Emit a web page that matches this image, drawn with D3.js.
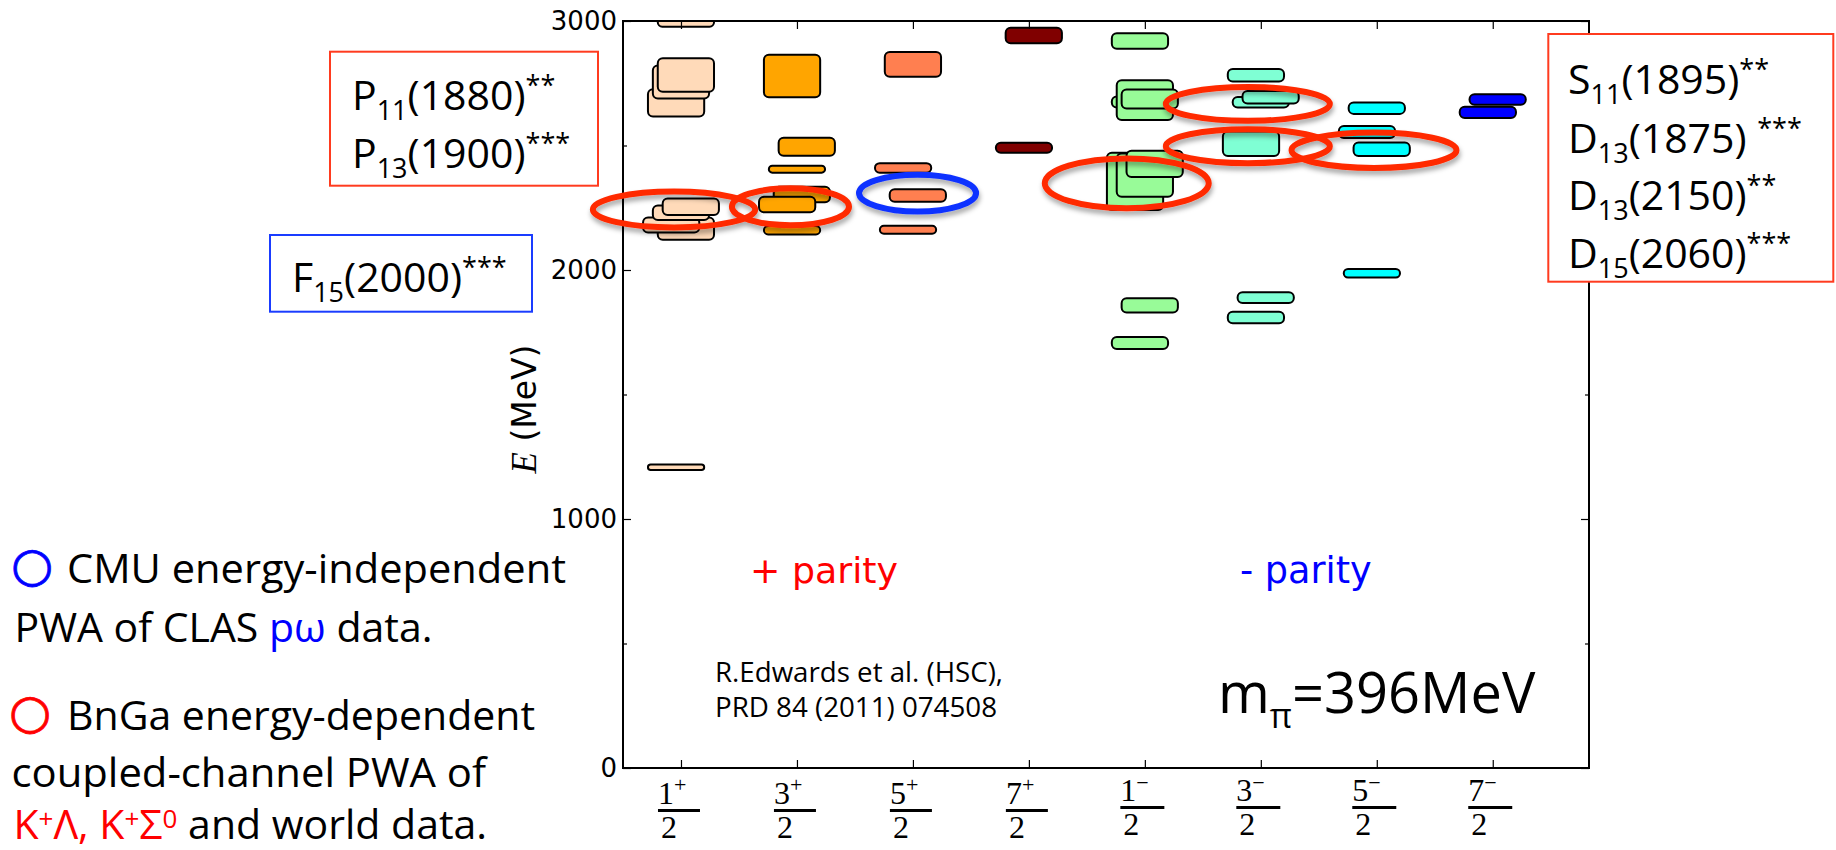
<!DOCTYPE html>
<html><head><meta charset="utf-8">
<script src="https://cdn.jsdelivr.net/npm/d3@7"></script>
<style>body{margin:0;background:#fff;} svg{display:block;}</style>
</head><body>
<svg id="chart" width="1836" height="850"></svg>
<script>
// ---------------- data ----------------
const categories = ["1/2+","3/2+","5/2+","7/2+","1/2-","3/2-","5/2-","7/2-"];
const tickNumerators = ["1","3","5","7","1","3","5","7"];
const tickParities = ["+","+","+","+","\u2212","\u2212","\u2212","\u2212"];
const tickDenominators = ["2","2","2","2","2","2","2","2"];
const yMajorTicks = [0,1000,2000,3000];
const yMinorTicks = [500,1500,2500];
const boxColors = ["#FFDAB9","#FFA500","#FF7F50","#800000","#98FB98","#7FFFD4","#00FFFF","#0000FF"];
// levels: [energy (MeV), half-height (MeV), overlap shift index], in drawing order
const levels1p = [[2995,18,1],[2671,55,-1],[2755,66,0],[2783,67,1],[2166,45,1],[2181,30,-2],[2230,29,0],[2254,33,2],[1208,11,-1]];
const levels3p = [[2779,85,-1],[2495,36,2],[2405,14,0],[2303,31,1],[2263,31,-2],[2160,17,-1]];
const levels5p = [[2826,50,0],[2410,19,-2],[2299,25,1],[2162,16,-1]];
const levels7p = [[2942,31,1],[2491,20,-1]];
const levels1m = [[2920,31,-1],[2675,22,-1],[2682,80,0],[2687,38,1],[2356,115,-2],[2381,87,0],[2426,53,2],[1858,29,1],[1707,24,-1]];
const levels3m = [[2782,25,-1],[2674,21,0],[2694,25,2],[2507,49,-2],[1889,22,1],[1809,23,-1]];
const levels5m = [[2650,23,0],[2554,24,-2],[2485,27,1],[1987,17,-1]];
const levels7m = [[2685,21,1],[2633,23,-1]];
// highlighted states: [x (category units), E (MeV), half-width (units), half-height (MeV), analysis]
const highlights = [[0.94,2243,0.70,72,"BnGa"],[1.944,2254,0.505,74,"BnGa"],[3.04,2309,0.505,74,"CMU"],
  [4.844,2348,0.707,100,"BnGa"],[5.888,2667,0.707,68,"BnGa"],[5.888,2497,0.707,68,"BnGa"],[6.976,2481,0.711,71,"BnGa"]];
const leftBoxLines = [["P","11","(1880)","**"],["P","13","(1900)","***"]];
const blueBoxLines = [["F","15","(2000)","***"]];
const rightBoxLines = [["S","11","(1895)","**"],["D","13","(1875) ","***"],["D","13","(2150)","**"],["D","15","(2060)","***"]];

// ---------------- chart ----------------
const W=1836, H=850;
const svg = d3.select("#chart");
svg.append("rect").attr("width",W).attr("height",H).attr("fill","#fff");
const L=623, R=1589, T=21, B=768;
const x = d3.scaleLinear().domain([0.5,8.83]).range([L,R]);
const y = d3.scaleLinear().domain([0,3000]).range([B,T]);
const shiftStep = 0.0423, boxW = 0.485;

const defs = svg.append("defs");
defs.append("clipPath").attr("id","plotClip").append("rect").attr("x",L).attr("y",T).attr("width",R-L).attr("height",B-T);
const flt = defs.append("filter").attr("id","shadow").attr("x","-20%").attr("y","-50%").attr("width","140%").attr("height","200%");
flt.append("feDropShadow").attr("dx",1).attr("dy",4).attr("stdDeviation",2.5).attr("flood-color","#000").attr("flood-opacity",0.35);

// boxes
const plot = svg.append("g").attr("clip-path","url(#plotClip)");
const allLevels = [levels1p,levels3p,levels5p,levels7p,levels1m,levels3m,levels5m,levels7m];
allLevels.forEach((lv,i)=>{
  plot.selectAll(null).data(lv).enter().append("rect")
    .attr("x", d=>x(i+1 + d[2]*shiftStep - boxW/2))
    .attr("width", x(boxW)-x(0))
    .attr("y", d=>y(d[0]+d[1]))
    .attr("height", d=>y(d[0]-d[1])-y(d[0]+d[1]))
    .attr("rx", d=>Math.min(5,(y(d[0]-d[1])-y(d[0]+d[1]))/2))
    .attr("fill", boxColors[i]).attr("stroke","#000").attr("stroke-width",2);
});

// axes
function styleAxis(g){ g.select(".domain").remove(); g.selectAll(".tick line").attr("stroke","#000").attr("stroke-width",1.2);
  g.selectAll("text").attr("font-family","DejaVu Sans").attr("font-size",26).attr("fill","#000"); }
svg.append("g").attr("transform",`translate(${L},0)`).call(d3.axisLeft(y).tickValues(yMajorTicks).tickSize(-8).tickPadding(6).tickFormat(d3.format("d"))).call(styleAxis);
svg.append("g").attr("transform",`translate(${L},0)`).call(d3.axisLeft(y).tickValues(yMinorTicks).tickSize(-4).tickFormat("")).call(styleAxis);
svg.append("g").attr("transform",`translate(${R},0)`).call(d3.axisRight(y).tickValues(yMajorTicks).tickSize(-8).tickFormat("")).call(styleAxis);
svg.append("g").attr("transform",`translate(${R},0)`).call(d3.axisRight(y).tickValues(yMinorTicks).tickSize(-4).tickFormat("")).call(styleAxis);
const xt = d3.range(1,categories.length+1);
svg.append("g").attr("transform",`translate(0,${B})`).call(d3.axisBottom(x).tickValues(xt).tickSize(-8).tickFormat("")).call(styleAxis);
svg.append("g").attr("transform",`translate(0,${T})`).call(d3.axisTop(x).tickValues(xt).tickSize(-8).tickFormat("")).call(styleAxis);
svg.append("rect").attr("x",L).attr("y",T).attr("width",R-L).attr("height",B-T).attr("fill","none").attr("stroke","#000").attr("stroke-width",2);

// fraction tick labels
categories.forEach((c,i)=>{
  const minus = tickParities[i] === "\u2212";
  const off = minus ? -3 : 0;
  const bw = minus ? 44 : 42;
  const bl = x(i+1) - (minus ? 24.5 : 23);
  const num = svg.append("text").attr("x",bl).attr("y",804+off).attr("font-family","Liberation Serif").attr("font-size",32).attr("fill","#000");
  num.append("tspan").text(tickNumerators[i]);
  num.append("tspan").attr("dy",minus?-11:-12).attr("font-size",22).text(tickParities[i]);
  svg.append("rect").attr("x",bl).attr("y",809+off).attr("width",bw).attr("height",3).attr("fill","#000");
  svg.append("text").attr("x",bl+3).attr("y",837.5+off).attr("font-family","Liberation Serif").attr("font-size",32).attr("fill","#000").text(tickDenominators[i]);
});

// y label
const yl = svg.append("text").attr("transform","translate(536,409) rotate(-90)").attr("text-anchor","middle").attr("fill","#000");
yl.append("tspan").attr("font-family","Liberation Serif").attr("font-style","italic").attr("font-size",35).text("E");
yl.append("tspan").attr("font-family","DejaVu Sans").attr("font-size",33).text(" (MeV)");

// highlight ellipses
const ell = svg.append("g").attr("filter","url(#shadow)");
ell.selectAll("ellipse").data(highlights).enter().append("ellipse")
  .attr("cx", d=>x(d[0])).attr("cy", d=>y(d[1]))
  .attr("rx", d=>x(d[0]+d[2])-x(d[0])).attr("ry", d=>y(d[1]-d[3])-y(d[1]))
  .attr("fill","none").attr("stroke", d=>d[4]==="CMU" ? "#1030ff" : "#ff2a00").attr("stroke-width",6);

// parity labels
svg.append("text").attr("x",750).attr("y",582.7).attr("font-family","DejaVu Sans").attr("font-size",36.3).attr("fill","#ff0000").text("+ parity");
svg.append("text").attr("x",1240).attr("y",582.7).attr("font-family","DejaVu Sans").attr("font-size",36.6).attr("fill","#0000ff").text("- parity");

// reference text
const SL = "Open Sans";
svg.append("text").attr("x",715).attr("y",681.7).attr("font-family",SL).attr("font-size",28).attr("textLength",288).attr("lengthAdjust","spacingAndGlyphs").text("R.Edwards et al. (HSC),");
svg.append("text").attr("x",715).attr("y",717.3).attr("font-family",SL).attr("font-size",28).attr("textLength",282).attr("lengthAdjust","spacingAndGlyphs").text("PRD 84 (2011) 074508");
const mpi = svg.append("text").attr("x",1218).attr("y",713.3).attr("font-family",SL).attr("font-size",56).attr("fill","#000");
mpi.append("tspan").text("m");
mpi.append("tspan").attr("dy",15).attr("font-size",34).text("\u03c0");
mpi.append("tspan").attr("dy",-15).text("=396MeV");

// state boxes
function stateLines(lines, x0, baselines){
  lines.forEach((ln,k)=>{
    const t = svg.append("text").attr("x",x0).attr("y",baselines[k]).attr("font-family",SL).attr("font-size",41).attr("fill","#000");
    t.append("tspan").text(ln[0]);
    t.append("tspan").attr("dy",10).attr("font-size",27).text(ln[1]);
    t.append("tspan").attr("dy",-10).text(ln[2]);
    t.append("tspan").attr("dy",-15).attr("font-size",27).text(ln[3]);
  });
}
svg.append("rect").attr("x",330).attr("y",51.7).attr("width",268).attr("height",134).attr("fill","#fff").attr("stroke","#ff3b1f").attr("stroke-width",2);
stateLines(leftBoxLines, 352, [110,168.3]);
svg.append("rect").attr("x",270).attr("y",235).attr("width",262).attr("height",76.7).attr("fill","#fff").attr("stroke","#1a3cff").attr("stroke-width",2);
stateLines(blueBoxLines, 292, [291.7]);
svg.append("rect").attr("x",1548.3).attr("y",34).attr("width",285).attr("height",247.7).attr("fill","#fff").attr("stroke","#ff3b1f").attr("stroke-width",2);
stateLines(rightBoxLines, 1568, [94,152.7,210,268.3]);

// legend text
const FS = 41;
svg.append("text").attr("x",11).attr("y",581).attr("font-family","DejaVu Sans").attr("font-size",48).attr("fill","#0000ff").attr("stroke","#0000ff").attr("stroke-width",0.8).text("\u25cb");
svg.append("text").attr("x",67).attr("y",583.3).attr("font-family",SL).attr("font-size",FS).attr("textLength",499).attr("lengthAdjust","spacingAndGlyphs").text("CMU energy-independent");
const l2 = svg.append("text").attr("x",14.5).attr("y",641.7).attr("font-family",SL).attr("font-size",FS).attr("fill","#000");
l2.append("tspan").text("PWA of CLAS ");
l2.append("tspan").attr("fill","#0000ff").text("p\u03c9");
l2.append("tspan").text(" data.");
svg.append("text").attr("x",9).attr("y",728).attr("font-family","DejaVu Sans").attr("font-size",48).attr("fill","#ff0000").attr("stroke","#ff0000").attr("stroke-width",0.8).text("\u25cb");
svg.append("text").attr("x",67).attr("y",730).attr("font-family",SL).attr("font-size",FS).attr("textLength",468).attr("lengthAdjust","spacingAndGlyphs").text("BnGa energy-dependent");
svg.append("text").attr("x",11.5).attr("y",787).attr("font-family",SL).attr("font-size",FS).attr("textLength",474.5).attr("lengthAdjust","spacingAndGlyphs").text("coupled-channel PWA of");
const l5 = svg.append("text").attr("x",13.4).attr("y",839).attr("font-family",SL).attr("font-size",FS).attr("fill","#ff0000");
l5.append("tspan").text("K");
l5.append("tspan").attr("dy",-11.5).attr("font-size",26).text("+");
l5.append("tspan").attr("dy",11.5).text("\u039b, K");
l5.append("tspan").attr("dy",-11.5).attr("font-size",26).text("+");
l5.append("tspan").attr("dy",11.5).text("\u03a3");
l5.append("tspan").attr("dy",-11.5).attr("font-size",26).text("0");
l5.append("tspan").attr("dy",11.5).attr("fill","#000").text(" and world data.");
</script>
</body></html>
